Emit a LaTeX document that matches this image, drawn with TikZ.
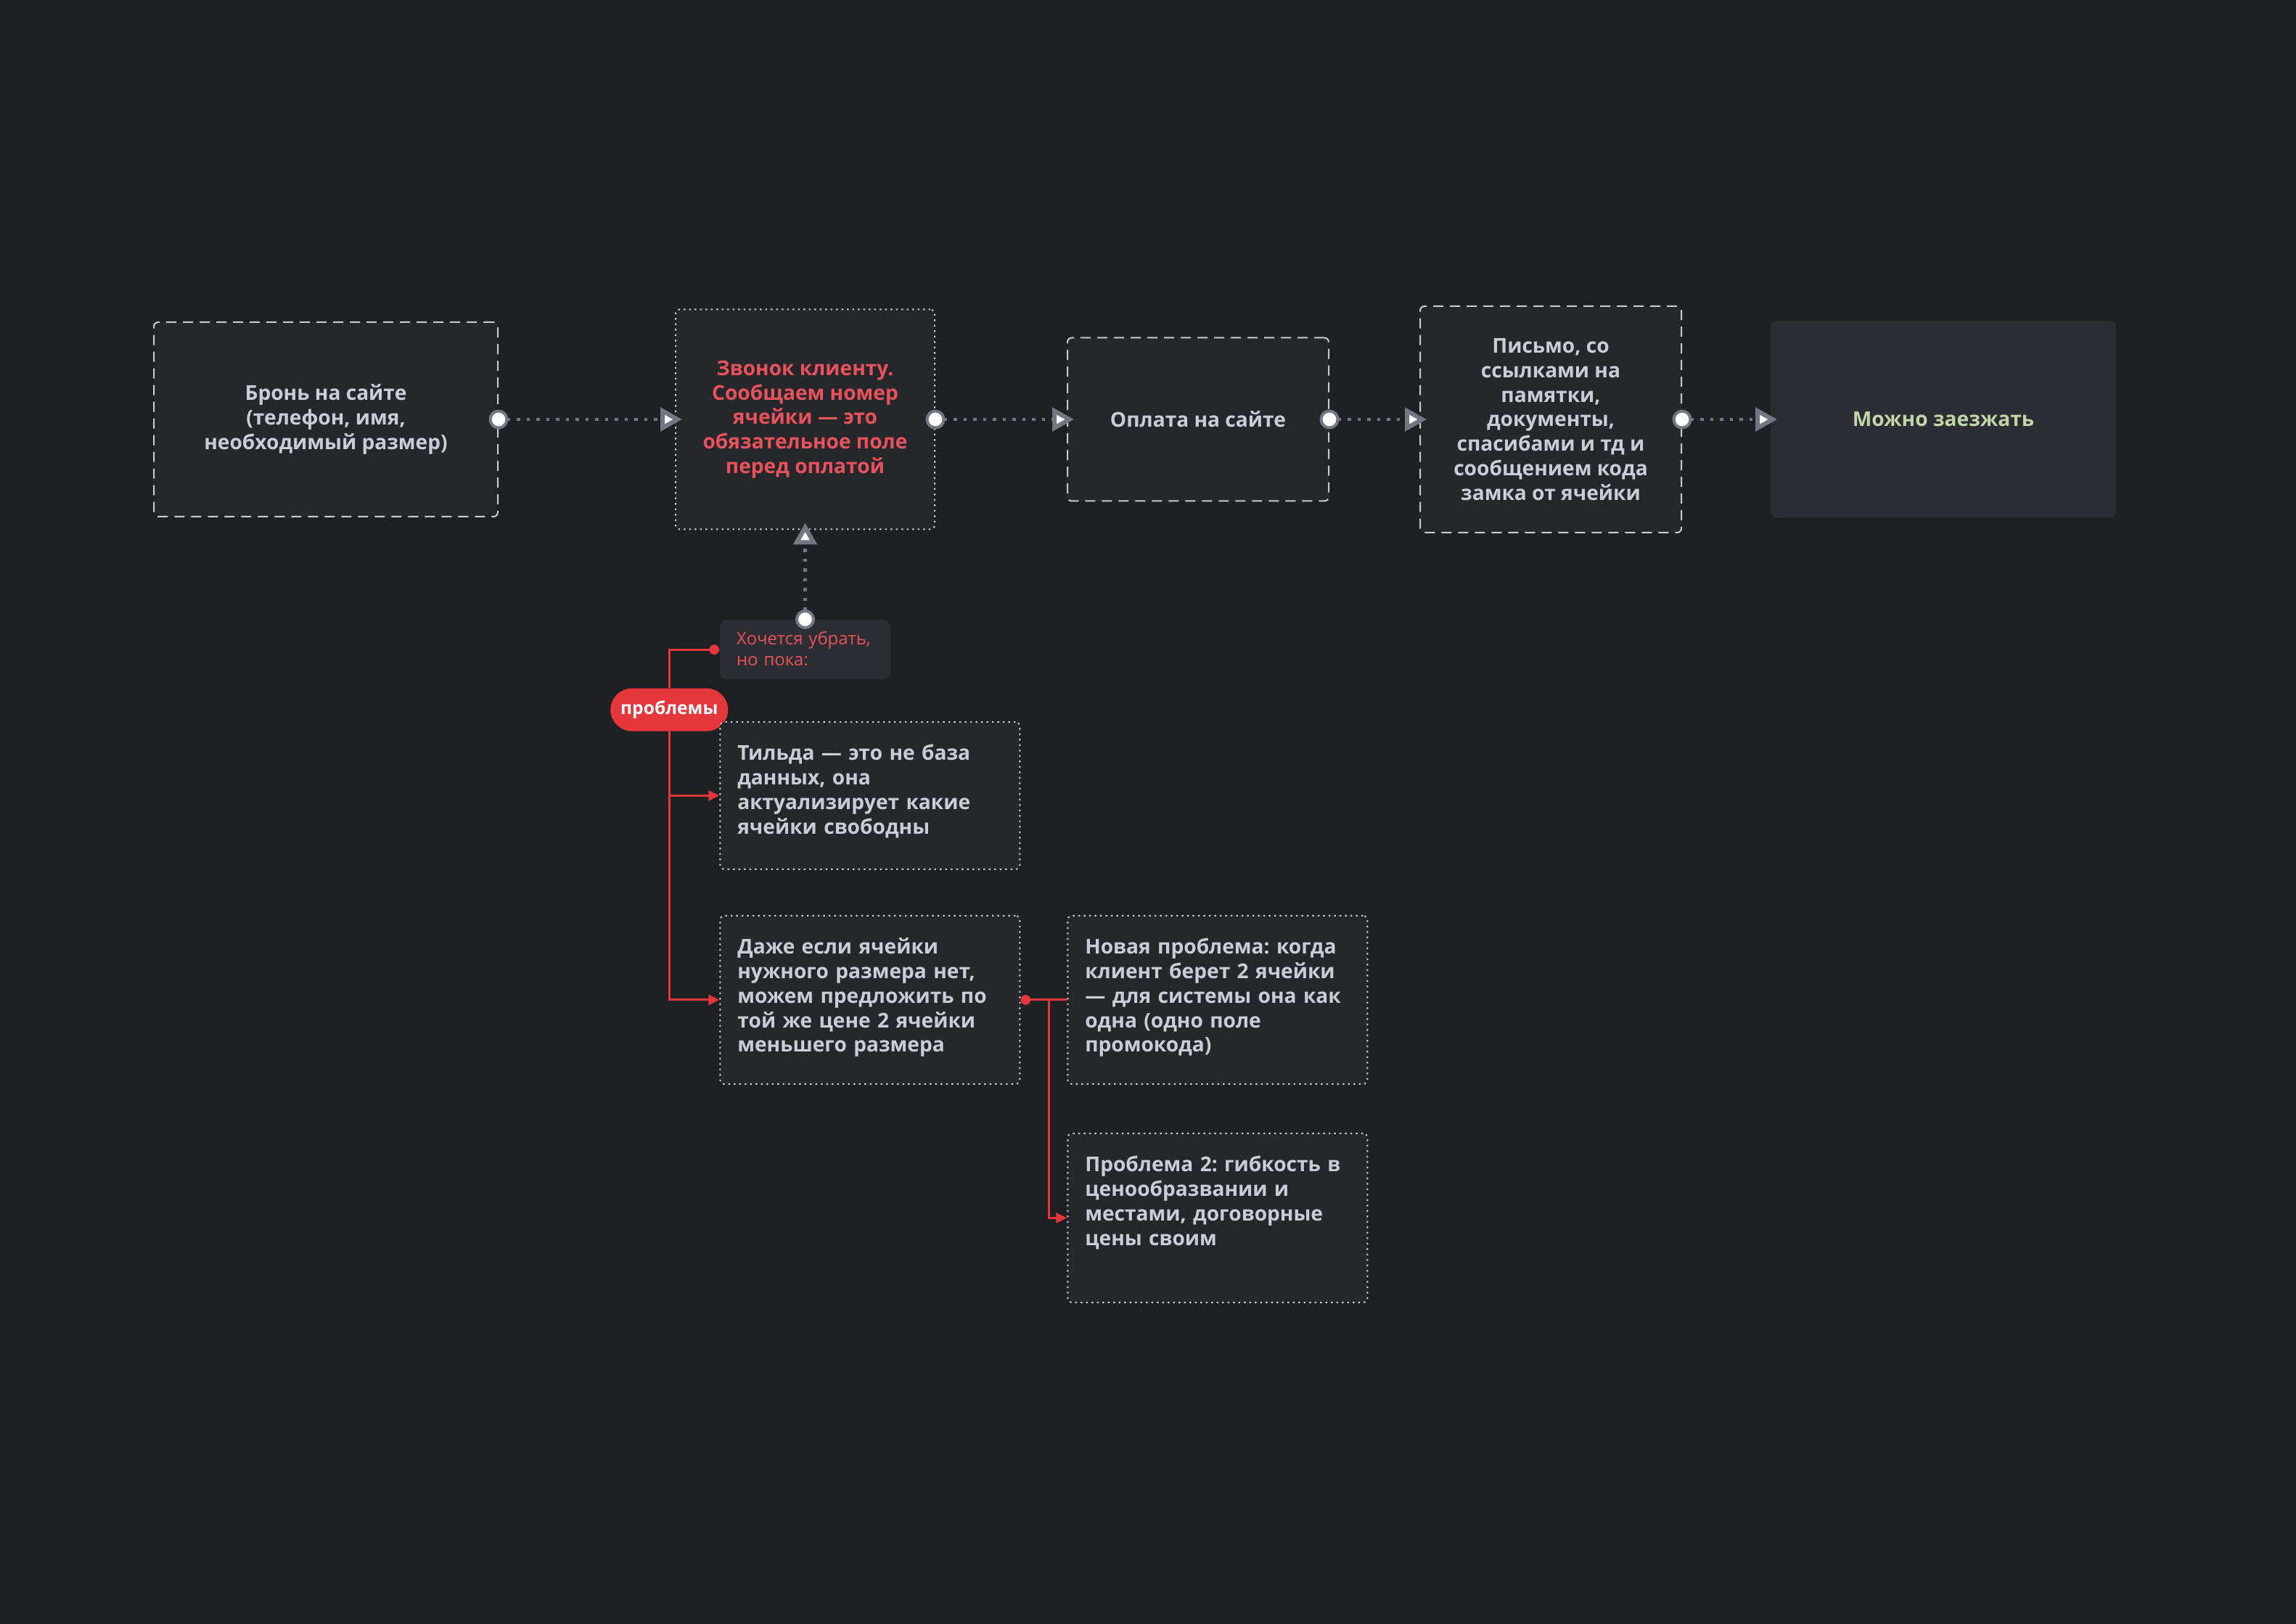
\documentclass[tikz,border=0pt]{standalone}
\usepackage{fontspec}
\setmainfont{Open Sans}
\frenchspacing
\usetikzlibrary{positioning,arrows.meta}

\definecolor{bgdark}{HTML}{1F2023}
\definecolor{boxfill}{HTML}{25272B}
\definecolor{notefill}{HTML}{2C2E33}
\definecolor{textgray}{HTML}{C9CDD6}
\definecolor{textred}{HTML}{E8525C}
\definecolor{textgreen}{HTML}{C3D5A9}
\definecolor{linkgray}{HTML}{737783}
\definecolor{linkred}{HTML}{E5373B}
\definecolor{framegray}{HTML}{C8CACF}

\begin{document}
\begin{tikzpicture}[stepnode/.style={rectangle, rounded corners=0.06cm, fill=boxfill, draw=framegray, line width=0.02cm, align=center, inner sep=0, text=textgray, font=\bfseries\fontsize{8}{9.6}\selectfont},
                    dashedstep/.style={stepnode, dash pattern=on 0.14cm off 0.09cm},
                    dottedstep/.style={stepnode, dash pattern=on 0.025cm off 0.05cm},
                    issuebox/.style={stepnode, dash pattern=on 0.025cm off 0.05cm, align=left, text width=3.65cm, inner xsep=0.24cm, inner ysep=0, text height=0.53cm, text depth=#1},
                    flow/.style={linkgray, line width=0.045cm, dash pattern=on 0.045cm off 0.09cm, {Circle[length=0.27cm, width=0.27cm, fill=white, line width=0.04cm]}-{Triangle[length=0.3cm, width=0.32cm, fill=white, line width=0.06cm]}, shorten <=-0.135cm, shorten >=-0.1cm},
                    redlink/.style={linkred, line width=0.03cm, -{Triangle[length=0.15cm, width=0.14cm]}},
                    reddot/.style={{Circle[length=0.14cm, width=0.14cm]}-}]
    % Canvas
    \fill[bgdark] (0,0) rectangle (31.64,-22.38);
    \useasboundingbox (0,0) rectangle (31.64,-22.38);
    % Main flow
    \node[dashedstep, minimum width=4.74cm, minimum height=2.68cm] (booking) at (4.49,-5.78) {Бронь на сайте\\(телефон, имя,\\необходимый размер)};
    \node[dottedstep, minimum width=3.57cm, minimum height=3.03cm, text=textred] (call) [right=2.43cm of booking] {Звонок клиенту.\\Сообщаем номер\\ячейки — это\\обязательное поле\\перед оплатой};
    \node[dashedstep, minimum width=3.60cm, minimum height=2.25cm] (payment) [right=1.81cm of call] {Оплата на сайте};
    \node[dashedstep, minimum width=3.60cm, minimum height=3.12cm] (letter) [right=1.24cm of payment] {Письмо, со\\ссылками на\\памятки,\\документы,\\спасибами и тд и\\сообщением кода\\замка от ячейки};
    \node[stepnode, draw=none, fill=notefill, rounded corners=0.08cm, minimum width=4.76cm, minimum height=2.71cm, text=textgreen] (checkin) [right=1.21cm of letter] {Можно заезжать};
    % Problems
    \node[rectangle, rounded corners=0.1cm, fill=notefill, text=textred, font=\fontsize{6.8}{8.25}\selectfont, align=left, text width=1.89cm, inner xsep=0.23cm, inner ysep=0, text height=0.34cm, text depth=0.48cm] (note) [below=1.23cm of call] {Хочется убрать,\\но пока:};
    \node[rectangle, rounded corners=0.295cm, fill=linkred, text=white, font=\bfseries\fontsize{7}{9}\selectfont, minimum width=1.62cm, minimum height=0.59cm, inner sep=0, anchor=north] (problems) at ([xshift=-0.69cm, yshift=-0.11cm]note.south west) {проблемы};
    \node[issuebox=1.50cm, anchor=north west] (tilda) at ([yshift=-0.57cm]note.south west) {Тильда — это не база\\данных, она\\актуализирует какие\\ячейки свободны};
    \node[issuebox=1.79cm] (smaller) [below=0.62cm of tilda] {Даже если ячейки\\нужного размера нет,\\можем предложить по\\той же цене 2 ячейки\\меньшего размера};
    \node[issuebox=1.79cm] (newissue) [right=0.64cm of smaller] {Новая проблема: когда\\клиент берет 2 ячейки\\— для системы она как\\одна (одно поле\\промокода)};
    \node[issuebox=1.80cm] (pricing) [below=0.66cm of newissue] {Проблема 2: гибкость в\\ценообразвании и\\местами, договорные\\цены своим};
    % Lines
    \draw[flow] (booking) -- (call);
    \draw[flow] (call) -- (payment);
    \draw[flow] (payment) -- (letter);
    \draw[flow] (letter) -- (checkin);
    \draw[flow] (note) -- (call);
    \draw[redlink, reddot] (note.west) -| (problems.north);
    \draw[redlink] (problems.south) |- (tilda.west);
    \draw[redlink] (problems.south) |- (smaller.west);
    \coordinate (fork) at ([xshift=0.39cm]smaller.east);
    \draw[redlink, reddot] (smaller.east) -- (newissue.west);
    \draw[redlink] (fork) |- (pricing.west);
\end{tikzpicture}
\end{document}
